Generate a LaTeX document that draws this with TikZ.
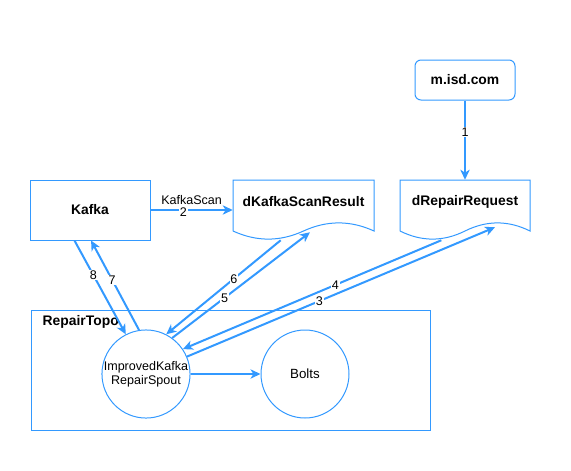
\documentclass[tikz,border=0pt]{standalone}
\usepackage{fontspec}
\setmainfont{Liberation Sans}
\usetikzlibrary{calc,arrows.meta}
\definecolor{flowblue}{HTML}{3399FF}

\begin{document}
\begin{tikzpicture}[x=0.75pt, y=-0.75pt, >={Stealth[length=7.5pt, width=7pt, inset=2.2pt]}, font=\fontsize{9.6}{11.5}\selectfont,
  box/.style={rectangle, draw=flowblue, line width=0.75pt},
  head/.style={font=\fontsize{10.4}{12}\selectfont\bfseries},
  flow/.style={->, draw=flowblue, line width=1.5pt},
  num/.style={fill=white, inner sep=0.5pt, font=\fontsize{9.4}{11}\selectfont}]
\useasboundingbox (0,0) rectangle (571,471);

\node[box, head, minimum width=90pt, minimum height=45pt] (K) at (90,210) {Kafka};
\node[box, head, rounded corners=4.5pt, minimum width=75pt, minimum height=30pt] (M) at (465,80) {m.isd.com};
\node[rectangle, minimum width=105.75pt, minimum height=45pt, label={[head, yshift=6pt]center:dKafkaScanResult}] (KSR) at (303.5,210) {};
\node[rectangle, minimum width=97.5pt, minimum height=45pt, label={[head, yshift=6pt]center:dRepairRequest}] (RR) at (465,210) {};

\node[box, minimum width=299.25pt, minimum height=90pt] (T) at (230.5,370) {};
\node[head, anchor=west] (TL) at (38,322) {RepairTopo};
\node[box, circle, minimum size=66pt, inner sep=0pt, align=center, font=\fontsize{9.4}{10.5}\selectfont] (S) at (146,374) {ImprovedKafka\\RepairSpout};
\node[box, circle, minimum size=66pt, font=\fontsize{10}{12}\selectfont] (B) at (305,374) {Bolts};

% document outlines
\draw[flowblue, line width=0.75pt] (233,231) -- (233,180) -- (374,180) -- (374,231) .. controls (350.5,220.2) and (327,220.2) .. (303.5,231) .. controls (280,241.8) and (256.5,241.8) .. (233,231);
\draw[flowblue, line width=0.75pt] (400,231) -- (400,180) -- (530,180) -- (530,231) .. controls (508.3,220.2) and (486.7,220.2) .. (465,231) .. controls (443.3,241.8) and (421.7,241.8) .. (400,231);

\draw[flow] (M) -- node[num, pos=0.4] {1} (RR);
\draw[flow] (K) -- node[midway, above, yshift=2.5pt, inner sep=0.5pt, font=\fontsize{9.4}{11}\selectfont] {KafkaScan} node[num, pos=0.4, yshift=-1.5pt] {2} (KSR.west);
\draw[flow] (S.23) -- node[num, pos=0.43] {3} ($(RR.south)+(30,-13)$);
\draw[flow] (RR.232) -- node[num, pos=0.41] {4} (S.34);
\draw[flow] (S.54) -- node[num, pos=0.38] {5} ($(KSR.south)+(6.5,-8)$);
\draw[flow] (KSR.233) -- node[num, pos=0.41] {6} (S.63);
\draw[flow] (S.99) -- node[num, pos=0.56] {7} (K.272);
\draw[flow] (K.243) -- node[num, pos=0.37] {8} (S.117);
\draw[flow] (S) -- (B);
\end{tikzpicture}
\end{document}
